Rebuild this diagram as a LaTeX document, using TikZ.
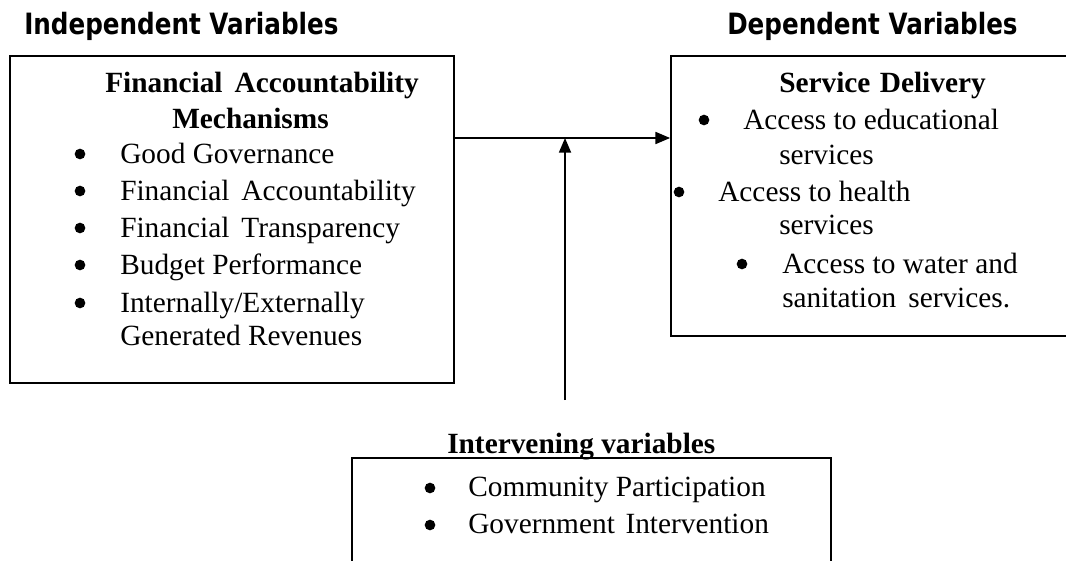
\documentclass[tikz,border=0pt]{standalone}
\usepackage{fontspec}
\setmainfont{Liberation Serif}
\newfontfamily\headfont[FakeStretch=0.84]{DejaVu Sans}
\usetikzlibrary{fit,arrows.meta}

\tikzset{
  box/.style={draw, line width=1.3pt, inner sep=0pt},
  item/.style={anchor=base west, inner sep=0pt, font=\fontsize{22}{27}\selectfont},
  title/.style={item, font=\fontsize{22}{27}\selectfont\bfseries},
  dot/.style={circle, fill, inner sep=0pt, minimum size=8pt},
  head/.style={anchor=base west, inner sep=0pt, font=\fontsize{22}{26}\selectfont\headfont\bfseries},
  link/.style={line width=1.3pt, -{Triangle[length=11pt, width=9pt]}}
}

\begin{document}
\begin{tikzpicture}[x=0.75pt, y=-0.75pt]
		\useasboundingbox (0,0) rectangle (1066,560);
		\clip (0,0) rectangle (1066,560);

		% Column headings
		\node[head] (indep) at (24,35) {Independent Variables};
		\node[head] (dep) at (727,35) {Dependent Variables};

		% Financial accountability mechanisms
		\node[box, fit={(10,56) (454,383)}] (fam) {};
		\node[title] (famtop) at (105,92) {Financial\hspace{9pt}Accountability};
		\node[title] (fambot) at (172,128) {Mechanisms};
		\node[dot] (famd1) at (80,154) {};
		\node[item] (fam1) at (120,163) {Good Governance};
		\node[dot] (famd2) at (80,191) {};
		\node[item] (fam2) at (120,200) {Financial\hspace{9pt}Accountability};
		\node[dot] (famd3) at (80,228) {};
		\node[item] (fam3) at (120,237) {Financial\hspace{9pt}Transparency};
		\node[dot] (famd4) at (80,265) {};
		\node[item] (fam4) at (120,274) {Budget Performance};
		\node[dot] (famd5) at (80,303) {};
		\node[item] (fam5) at (120,312) {Internally/Externally};
		\node[item] (fam6) at (120,345) {Generated Revenues};

		% Service delivery
		\node[box, fit={(671,56) (1085,336)}] (sd) {};
		\node[title] (sdtop) at (779,93) {Service\hspace{7pt}Delivery};
		\node[dot] (sdd1) at (704,120) {};
		\node[item] (sd1) at (743,129) {Access to educational};
		\node[item] (sd2) at (779,164) {services};
		\node[dot] (sdd3) at (679,192) {};
		\node[item] (sd3) at (718,201) {Access to health};
		\node[item] (sd4) at (779,234) {services};
		\node[dot] (sdd5) at (742,264) {};
		\node[item] (sd5) at (782,273) {Access to water and};
		\node[item] (sd6) at (782,307) {sanitation\hspace{9pt}services.};

		% Intervening variables
		\node[title] (ivtop) at (447,453) {Intervening variables};
		\node[box, fit={(352,458) (831,590)}] (iv) {};
		\node[dot] (ivd1) at (430,488) {};
		\node[item] (iv1) at (468,496) {Community Participation};
		\node[dot] (ivd2) at (430,525) {};
		\node[item] (iv2) at (468,533) {Government\hspace{8pt}Intervention};

		% Arrows
		\coordinate (join) at (565,138);
		\coordinate (src) at (565,400);
		\draw[link] (fam.east |- join) -- (sd.west |- join);
		\draw[link] (src) -- (join);
	\end{tikzpicture}
\end{document}
